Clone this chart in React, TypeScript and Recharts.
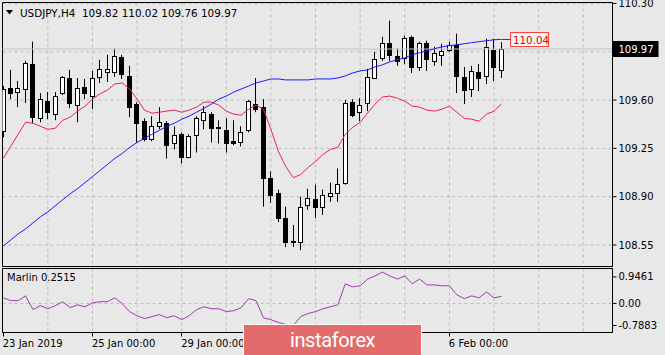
import {
  ComposedChart,
  Bar,
  Line,
  XAxis,
  YAxis,
  CartesianGrid,
  ReferenceArea,
  ReferenceDot,
  ReferenceLine,
} from "recharts";

// USDJPY H4 candles, 23 Jan 2019 00:00 .. 7 Feb 2019 04:00 (6 bars a day)
const opens = [
  109.374, 109.687, 109.658, 109.68, 109.862, 109.468, 109.592, 109.498, 109.651, 109.76,
  109.563, 109.695, 109.629, 109.768, 109.804, 109.804, 109.913, 109.775, 109.571, 109.447,
  109.315, 109.41, 109.432, 109.286, 109.352, 109.191, 109.344, 109.454, 109.498, 109.403,
  109.381, 109.301, 109.293, 109.381, 109.571, 109.549, 109.038, 108.929, 108.746, 108.579,
  108.571, 108.841, 108.885, 108.827, 108.907, 108.929, 109.002, 109.585, 109.512, 109.578,
  109.76, 109.906, 110.016, 109.921, 109.906, 110.059, 109.84, 110.016, 109.884, 109.928,
  109.964, 110.001, 109.768, 109.68, 109.804, 109.775, 109.964, 109.82,
];
const highs = [
  109.702, 109.819, 109.738, 109.884, 110.023, 109.651, 109.658, 109.658, 109.775, 109.819,
  109.76, 109.753, 109.811, 109.892, 109.928, 109.972, 109.928, 109.848, 109.585, 109.468,
  109.483, 109.549, 109.447, 109.41, 109.366, 109.352, 109.483, 109.556, 109.512, 109.454,
  109.468, 109.454, 109.41, 109.6, 109.76, 109.607, 109.082, 108.951, 108.827, 108.695,
  108.9, 108.958, 108.987, 108.951, 109.002, 109.104, 109.6, 109.607, 109.614, 109.826,
  109.95, 110.059, 110.176, 109.972, 110.067, 110.067, 110.023, 110.03, 109.986, 110.008,
  110.023, 110.081, 109.84, 109.848, 109.862, 110.045, 110.045, 110.02,
];
const lows = [
  109.33, 109.607, 109.549, 109.578, 109.432, 109.439, 109.461, 109.454, 109.636, 109.541,
  109.439, 109.607, 109.534, 109.724, 109.731, 109.768, 109.753, 109.476, 109.293, 109.301,
  109.301, 109.388, 109.177, 109.242, 109.14, 109.177, 109.22, 109.388, 109.293, 109.286,
  109.22, 109.272, 109.264, 109.366, 109.512, 108.827, 108.856, 108.717, 108.535, 108.535,
  108.513, 108.805, 108.746, 108.768, 108.863, 108.863, 108.987, 109.476, 109.447, 109.52,
  109.753, 109.884, 109.884, 109.848, 109.862, 109.797, 109.811, 109.811, 109.848, 109.848,
  109.95, 109.651, 109.571, 109.622, 109.665, 109.716, 109.738, 109.76,
];
const closes = [
  109.68, 109.651, 109.687, 109.87, 109.476, 109.607, 109.512, 109.629, 109.768, 109.578,
  109.687, 109.651, 109.76, 109.826, 109.826, 109.921, 109.789, 109.549, 109.432, 109.315,
  109.41, 109.439, 109.272, 109.344, 109.191, 109.337, 109.468, 109.512, 109.396, 109.396,
  109.286, 109.286, 109.366, 109.592, 109.534, 109.038, 108.914, 108.746, 108.571, 108.575,
  108.827, 108.892, 108.827, 108.914, 108.929, 108.994, 109.578, 109.49, 109.563, 109.768,
  109.899, 110.016, 109.928, 109.884, 110.052, 109.84, 110.016, 109.899, 109.943, 109.957,
  110.001, 109.775, 109.673, 109.811, 109.76, 109.986, 109.84, 109.97,
];

// moving averages (red = fast, blue = slow)
const maFast = [
  109.177, 109.264, 109.352, 109.439, 109.432, 109.41, 109.388, 109.396, 109.454, 109.476,
  109.52, 109.556, 109.607, 109.644, 109.673, 109.716, 109.724, 109.68, 109.607, 109.527,
  109.505, 109.512, 109.52, 109.527, 109.512, 109.527, 109.549, 109.585, 109.585, 109.563,
  109.52, 109.498, 109.49, 109.534, 109.563, 109.534, 109.388, 109.228, 109.118, 109.038,
  109.06, 109.111, 109.155, 109.206, 109.242, 109.257, 109.352, 109.403, 109.439, 109.505,
  109.571, 109.622, 109.629, 109.614, 109.592, 109.556, 109.549, 109.527, 109.52, 109.534,
  109.556, 109.512, 109.468, 109.461, 109.447, 109.498, 109.52, 109.571,
];
const maSlow = [
  108.542, 108.586, 108.63, 108.666, 108.71, 108.754, 108.79, 108.834, 108.878, 108.921,
  108.958, 109.002, 109.045, 109.089, 109.133, 109.177, 109.213, 109.257, 109.293, 109.323,
  109.352, 109.381, 109.41, 109.432, 109.461, 109.483, 109.512, 109.541, 109.571, 109.607,
  109.629, 109.658, 109.68, 109.702, 109.724, 109.738, 109.753, 109.753, 109.746, 109.746,
  109.746, 109.746, 109.753, 109.753, 109.753, 109.76, 109.775, 109.797, 109.811, 109.819,
  109.84, 109.855, 109.877, 109.892, 109.906, 109.928, 109.943, 109.957, 109.972, 109.986,
  109.994, 110.001, 110.008, 110.016, 110.023, 110.03, 110.037, 110.04,
];

const marlin = [
  0.2, 0.1, 0.1, 0.27, -0.22, -0.08, -0.19, -0.08, 0.06, -0.15,
  -0.05, -0.12, 0.02, 0.06, 0.06, 0.2, -0.01, -0.29, -0.44, -0.54,
  -0.47, -0.4, -0.51, -0.44, -0.58, -0.44, -0.22, -0.12, -0.19, -0.19,
  -0.29, -0.26, -0.15, 0.17, 0.1, -0.51, -0.58, -0.68, -0.75, -0.79,
  -0.47, -0.36, -0.29, -0.19, -0.12, -0.05, 0.7, 0.59, 0.63, 0.87,
  0.98, 1.12, 0.98, 0.87, 0.98, 0.7, 0.87, 0.66, 0.66, 0.63,
  0.63, 0.31, 0.17, 0.27, 0.2, 0.41, 0.2, 0.2515,
];

const priceTicks = [108.55, 108.9, 109.25, 109.6, 109.95, 110.3];
const marlinTicks = [0.9461, 0, -0.7883];
const marlinTickLabels = ["0.9461", "0.00", "-0.7883"];
const dayStarts = [6, 12, 18, 24, 30, 36, 42, 48, 54, 60, 66, 72, 78];
// labels at 31 Jan and 4 Feb sit under the watermark in the source, so only the visible ones
const dateTickIdx = [0, 12, 24, 60];
const dateTickLabels = ["23 Jan 2019", "25 Jan 00:00", "29 Jan 00:00", "6 Feb 00:00"];
const bidPrice = 109.97;

const X_DOMAIN: [number, number] = [-0.1, 81.94];
const P_DOMAIN: [number, number] = [108.394, 110.307];
const M_DOMAIN: [number, number] = [-1.037, 1.246];

const FONT = '"DejaVu Sans", Verdana, sans-serif';
const BG = "#e8e8e8";
const GRID = "#bcbcbc";

const data = opens.map((o, i) => ({
  i,
  open: o,
  high: highs[i],
  low: lows[i],
  close: closes[i],
  range: [lows[i], highs[i]],
  maFast: maFast[i],
  maSlow: maSlow[i],
  marlin: marlin[i],
}));

const Candle = (props: any) => {
  const { x, y, width, height, payload } = props;
  if (x == null || !payload) return null;
  const top = Math.min(y, y + height);
  const h = Math.abs(height);
  const { open, close, high, low } = payload;
  const yOf = (v: number) => top + ((high - v) / (high - low)) * h;
  const cx = Math.round(x + width / 2 - 0.5) + 0.5;
  const bTop = Math.round(yOf(Math.max(open, close))) + 0.5;
  const bBot = Math.round(yOf(Math.min(open, close))) + 0.5;
  const up = close >= open;
  return (
    <g>
      <line x1={cx} x2={cx} y1={top} y2={top + h} stroke="#000" />
      {bBot - bTop < 1 ? (
        <line x1={cx - 2.5} x2={cx + 2.5} y1={bTop} y2={bTop} stroke="#000" />
      ) : (
        <rect x={cx - 2} y={bTop} width={4} height={bBot - bTop} fill={up ? "#fff" : "#000"} stroke="#000" />
      )}
    </g>
  );
};

const MaTag = (props: any) => {
  const { cx, cy } = props;
  const x0 = Math.round(cx) + 0.5;
  const y0 = Math.round(cy) + 0.5;
  return (
    <g>
      <line x1={x0} x2={x0 + 9} y1={y0} y2={y0} stroke="#e00000" />
      <rect x={x0 + 9} y={y0 - 7} width={38} height={14} fill="#f6f6f6" stroke="#ff4040" />
      <text x={x0 + 11.5} y={y0 + 4} fill="#e00000" fontSize={10.3} fontFamily={FONT}>
        {maSlow[maSlow.length - 1].toFixed(2)}
      </text>
    </g>
  );
};

const BidTag = (props: any) => {
  const { cx, cy } = props;
  const y0 = Math.round(cy);
  return (
    <g>
      <rect x={cx} y={y0 - 8} width={46} height={16} fill="#000" />
      <text x={cx + 6} y={y0 + 4} fill="#fff" fontSize={10} fontFamily={FONT}>
        {bidPrice.toFixed(2)}
      </text>
    </g>
  );
};

// price scale label; the one under the bid box is covered in the source
const PriceTick = (props: any) => {
  const { x, y, payload } = props;
  if (Math.abs(payload.value - bidPrice) < 0.05) return null;
  return (
    <text x={x} y={y} dy="0.355em" textAnchor="start" fill="#000" fontSize={10} fontFamily={FONT}>
      {payload.value.toFixed(2)}
    </text>
  );
};

const DateTick = (props: any) => {
  const { x, y, payload } = props;
  const k = dateTickIdx.indexOf(payload.value);
  if (k < 0) return null;
  const px = Math.round(x - 0.5) + 0.5;
  return (
    <g>
      <line x1={px} x2={px} y1={y} y2={y + 4} stroke="#000" />
      <text x={x - 0.5} y={y + 14} textAnchor="start" fill="#000" fontSize={10} fontFamily={FONT}>
        {dateTickLabels[k]}
      </text>
    </g>
  );
};

export default function App() {
  return (
    <div style={{ position: "absolute", left: 0, top: 0, width: 665, height: 355, background: BG, overflow: "hidden", fontFamily: FONT }}>
      <div style={{ position: "absolute", left: 0, top: 0 }}>
        <ComposedChart width={665} height={268} data={data} margin={{ top: 2.5, right: 2.5, bottom: 1.5, left: 2.5 }}>
          <CartesianGrid stroke={GRID} strokeDasharray="3 3" horizontalValues={priceTicks} verticalValues={dayStarts} />
          <XAxis dataKey="i" type="number" domain={X_DOMAIN} allowDataOverflow hide />
          <YAxis
            orientation="right"
            width={50}
            domain={P_DOMAIN}
            allowDataOverflow
            ticks={priceTicks}
            interval={0}
            tick={<PriceTick />}
            tickSize={4}
            tickMargin={2}
            axisLine={{ stroke: "#000" }}
            tickLine={{ stroke: "#000" }}
          />
          <ReferenceLine y={bidPrice} stroke="#c4c4c4" />
          <Bar dataKey="range" shape={<Candle />} barSize={5} isAnimationActive={false} />
          <Line type="linear" dataKey="maFast" stroke="#e8264f" strokeWidth={1} dot={false} isAnimationActive={false} />
          <Line type="linear" dataKey="maSlow" stroke="#1a1aff" strokeWidth={1} dot={false} isAnimationActive={false} />
          <ReferenceArea x1={X_DOMAIN[0]} x2={X_DOMAIN[1]} y1={P_DOMAIN[0]} y2={P_DOMAIN[1]} fill="none" stroke="#000" ifOverflow="visible" />
          <ReferenceDot x={67} y={maSlow[maSlow.length - 1]} shape={MaTag} ifOverflow="visible" />
          <ReferenceDot x={X_DOMAIN[1]} y={bidPrice} shape={BidTag} ifOverflow="visible" />
        </ComposedChart>
      </div>

      <div style={{ position: "absolute", left: 0, top: 266 }}>
        <ComposedChart width={665} height={89} data={data} margin={{ top: 2.5, right: 2.5, bottom: 0, left: 2.5 }}>
          <CartesianGrid stroke={GRID} strokeDasharray="3 3" horizontalValues={[0]} verticalValues={dayStarts} />
          <XAxis
            dataKey="i"
            type="number"
            domain={X_DOMAIN}
            allowDataOverflow
            ticks={dateTickIdx}
            interval={0}
            height={22.5}
            tickSize={0}
            tickMargin={0}
            tickLine={false}
            axisLine={false}
            tick={<DateTick />}
          />
          <YAxis
            orientation="right"
            width={50}
            domain={M_DOMAIN}
            allowDataOverflow
            ticks={marlinTicks}
            interval={0}
            tickFormatter={(v: number) => marlinTickLabels[marlinTicks.indexOf(v)] ?? String(v)}
            tick={{ fill: "#000", fontSize: 10, fontFamily: FONT }}
            tickSize={4}
            tickMargin={2}
            axisLine={{ stroke: "#000" }}
            tickLine={{ stroke: "#000" }}
          />
          <Line type="linear" dataKey="marlin" stroke="#a23aae" strokeWidth={1} dot={false} isAnimationActive={false} />
          <ReferenceArea x1={X_DOMAIN[0]} x2={X_DOMAIN[1]} y1={M_DOMAIN[0]} y2={M_DOMAIN[1]} fill="none" stroke="#000" ifOverflow="visible" />
        </ComposedChart>
      </div>

      {/* header */}
      <svg style={{ position: "absolute", left: 6, top: 10 }} width={8} height={6}>
        <polygon points="0,0 7,0 3.5,4.5" fill="#000" />
      </svg>
      <div style={{ position: "absolute", left: 20, top: 7, fontSize: 10.4, lineHeight: "12px", color: "#000", whiteSpace: "nowrap" }}>
        USDJPY,H4&nbsp; {opens[opens.length - 1].toFixed(2)} {highs[highs.length - 1].toFixed(2)} {lows[lows.length - 1].toFixed(2)} {closes[closes.length - 1].toFixed(2)}
      </div>
      <div style={{ position: "absolute", left: 7, top: 272, fontSize: 10, lineHeight: "12px", color: "#000", whiteSpace: "nowrap" }}>
        Marlin {marlin[marlin.length - 1].toFixed(4)}
      </div>

      {/* watermark */}
      <div
        style={{
          position: "absolute",
          left: 243,
          top: 324,
          width: 179,
          height: 33,
          boxSizing: "border-box",
          border: "1px solid #fff",
          background: "#e26b6b",
          color: "#fff",
          fontFamily: "Roboto, sans-serif",
          fontSize: 20,
          lineHeight: "31px",
          letterSpacing: -0.4,
          paddingLeft: 46,
        }}
      >
        instaforex
      </div>
    </div>
  );
}
